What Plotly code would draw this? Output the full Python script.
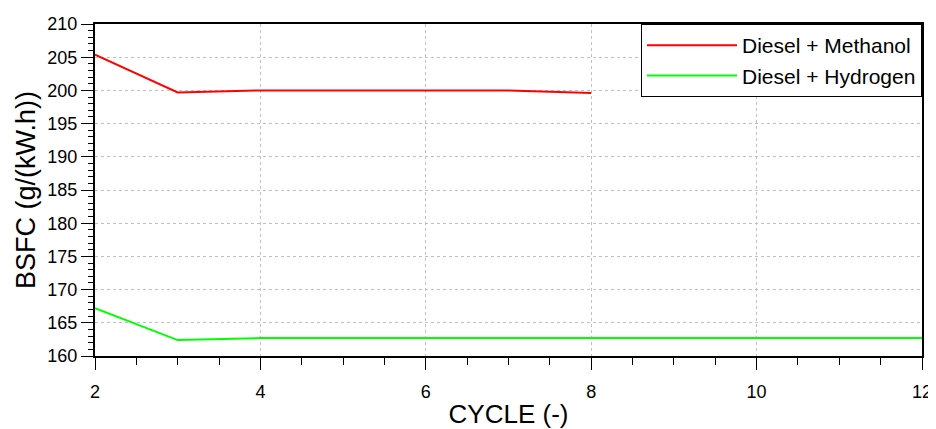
import plotly.graph_objects as go

cycles_methanol = [2, 3, 4, 5, 6, 7, 8]
bsfc_methanol = [205.4, 199.7, 200.0, 200.0, 200.0, 200.0, 199.6]
cycles_hydrogen = [2, 3, 4, 5, 6, 7, 8, 9, 10, 11, 12]
bsfc_hydrogen = [167.2, 162.4, 162.7, 162.7, 162.7, 162.7, 162.7, 162.7, 162.7, 162.7, 162.7]

fig = go.Figure()
fig.add_trace(go.Scatter(x=cycles_methanol, y=bsfc_methanol, mode="lines",
                         name="Diesel + Methanol", line=dict(color="#ff0000", width=2)))
fig.add_trace(go.Scatter(x=cycles_hydrogen, y=bsfc_hydrogen, mode="lines",
                         name="Diesel + Hydrogen", line=dict(color="#00ff00", width=2)))

font = "Liberation Sans, Arial, sans-serif"
fig.update_layout(
    width=928, height=421,
    margin=dict(l=87, r=14, t=16, b=73),
    paper_bgcolor="white", plot_bgcolor="white",
    font=dict(family=font, color="black", size=18),
    showlegend=True,
    legend=dict(x=1, y=1, xanchor="right", yanchor="top",
                bgcolor="white", bordercolor="black", borderwidth=1,
                font=dict(size=21, family=font), itemwidth=90,
                tracegroupgap=0),
    xaxis=dict(range=[2, 12], tickvals=[2, 4, 6, 8, 10, 12],
               ticks="outside", ticklen=12, tickwidth=1, tickcolor="black",
               ticklabelstandoff=6, ticklabeloverflow="allow",
               minor=dict(dtick=0.5, ticks="outside", ticklen=7, tickcolor="black", showgrid=False),
               showline=True, linecolor="black", linewidth=2, mirror=True,
               showgrid=True, gridcolor="#c0c0c0", griddash="dot", gridwidth=1,
               zeroline=False, automargin=False, tickfont=dict(size=18),
               title=dict(text="CYCLE (-)", font=dict(size=26), standoff=6)),
    yaxis=dict(range=[160, 210], dtick=5, tick0=160,
               ticks="outside", ticklen=12, tickwidth=1, tickcolor="black",
               ticklabelstandoff=0,
               minor=dict(dtick=1, ticks="outside", ticklen=5, tickcolor="black", showgrid=False),
               showline=True, linecolor="black", linewidth=2, mirror=True,
               showgrid=True, gridcolor="#c0c0c0", griddash="dot", gridwidth=1,
               zeroline=False, automargin=False, tickfont=dict(size=18),
               title=dict(text="BSFC (g/(kW.h))", font=dict(size=27), standoff=4)),
)

fig.write_html("out.html")
